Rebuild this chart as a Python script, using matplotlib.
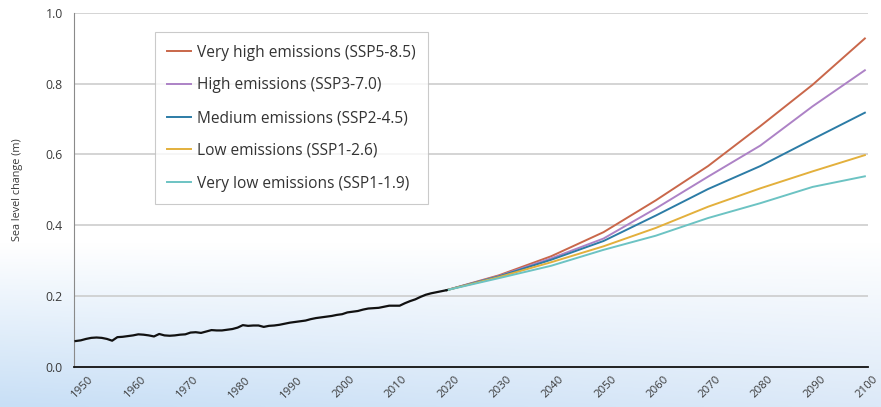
import numpy as np
import matplotlib
matplotlib.use("Agg")
import matplotlib.pyplot as plt
import matplotlib.transforms as mtransforms

plt.rcParams['font.family'] = ['Open Sans', 'DejaVu Sans']

# Observed global mean sea level (m), annual
hist_years = list(range(1949, 2021))
hist_values = [
    0.072, 0.074, 0.078, 0.081, 0.082, 0.081, 0.078, 0.073, 0.083, 0.084,
    0.086, 0.088, 0.091, 0.090, 0.088, 0.085, 0.092, 0.088, 0.087, 0.088,
    0.090, 0.091, 0.096, 0.097, 0.095, 0.099, 0.103, 0.102, 0.102, 0.104,
    0.106, 0.110, 0.117, 0.115, 0.116, 0.116, 0.112, 0.115, 0.116, 0.118,
    0.121, 0.124, 0.126, 0.128, 0.130, 0.134, 0.137, 0.139, 0.141, 0.143,
    0.146, 0.148, 0.153, 0.155, 0.157, 0.161, 0.164, 0.165, 0.166, 0.169,
    0.172, 0.172, 0.172, 0.179, 0.185, 0.190, 0.197, 0.203, 0.207, 0.210,
    0.213, 0.216,
]

# Projected sea level change (m) by scenario
proj_years = [2020, 2030, 2040, 2050, 2060, 2070, 2080, 2090, 2100]
ssp585 = [0.216, 0.258, 0.312, 0.380, 0.470, 0.567, 0.680, 0.797, 0.928]
ssp370 = [0.216, 0.256, 0.306, 0.362, 0.447, 0.537, 0.625, 0.736, 0.838]
ssp245 = [0.216, 0.255, 0.302, 0.355, 0.427, 0.502, 0.567, 0.643, 0.718]
ssp126 = [0.216, 0.253, 0.295, 0.340, 0.392, 0.452, 0.504, 0.552, 0.598]
ssp119 = [0.216, 0.250, 0.285, 0.330, 0.370, 0.420, 0.462, 0.508, 0.538]

scenario_labels = [
    "Very high emissions (SSP5-8.5)",
    "High emissions (SSP3-7.0)",
    "Medium emissions (SSP2-4.5)",
    "Low emissions (SSP1-2.6)",
    "Very low emissions (SSP1-1.9)",
]
scenario_values = [ssp585, ssp370, ssp245, ssp126, ssp119]
scenario_colors = ["#c9674a", "#ad82c6", "#2c7ca6", "#e3b03c", "#6cc3c3"]

x_ticks = list(range(1950, 2101, 10))
y_ticks = [0.0, 0.2, 0.4, 0.6, 0.8, 1.0]

W, H = 881, 407
fig = plt.figure(figsize=(W / 100, H / 100), dpi=100)

# soft blue wash along the bottom of the figure
bg = fig.add_axes([0, 0, 1, 1], zorder=-10)
bg.set_axis_off()
ny, nx = 200, 200
yy = np.linspace(0, 1, ny)[:, None]          # 0 = top, 1 = bottom
xx = np.linspace(0, 1, nx)[None, :]
t = np.clip((yy - 0.60) / 0.40, 0, 1) ** 1.0
left_c = np.array([200, 223, 246]) / 255.0
right_c = np.array([220, 233, 248]) / 255.0
bottom_c = left_c[None, None, :] * (1 - xx[..., None]) + right_c[None, None, :] * xx[..., None]
img = np.ones((ny, nx, 3)) * (1 - t[..., None]) + bottom_c * t[..., None]
bg.imshow(img, aspect='auto', extent=[0, 1, 0, 1], origin='upper')
bg.set_xlim(0, 1)
bg.set_ylim(0, 1)

ax = fig.add_axes([74 / W, 1 - 366.5 / H, (868 - 74) / W, (366.5 - 13) / H])
ax.set_facecolor('none')

for vals, lab, col in zip(scenario_values, scenario_labels, scenario_colors):
    ax.plot(proj_years, vals, color=col, lw=1.4, label=lab, zorder=3)
ax.plot(hist_years, hist_values, color='#111111', lw=1.6, zorder=4)

ax.set_xlim(1948.7, 2100.6)
ax.set_ylim(0, 1.0)

for yv in y_ticks[1:]:
    ax.axhline(yv, color='#c9c9c9', lw=1.1, zorder=1)

for s in ['top', 'right']:
    ax.spines[s].set_visible(False)
ax.spines['left'].set_color('#8a8a8a')
ax.spines['left'].set_linewidth(0.8)
ax.spines['bottom'].set_color('#111111')
ax.spines['bottom'].set_linewidth(1.3)

ax.set_xticks(x_ticks)
ax.set_xticklabels([str(v) for v in x_ticks], rotation=45, ha='center',
                   fontsize=8.2, color='#3a3a3a')
ax.set_yticks(y_ticks)
ax.set_yticklabels([f"{v:.1f}" for v in y_ticks], fontsize=8.8, color='#3a3a3a')
ax.tick_params(axis='x', length=0, pad=5.5)
ax.tick_params(axis='y', length=0, pad=8)
offset = mtransforms.ScaledTranslation(2 / 100, 0, fig.dpi_scale_trans)
for lbl in ax.get_xticklabels():
    lbl.set_transform(lbl.get_transform() + offset)

ax.set_ylabel("Sea level change (m)", fontsize=7.8, color='#3a3a3a')
ax.yaxis.set_label_coords(-0.064, 0.5)

leg = ax.legend(loc='upper left', bbox_to_anchor=(0.102, 0.946), borderaxespad=0,
                fontsize=11.2, frameon=True, fancybox=False, handlelength=1.5,
                handletextpad=0.4, labelspacing=1.08, borderpad=0.8)
leg.get_frame().set_edgecolor('#bdbdbd')
leg.get_frame().set_linewidth(0.8)
for txt in leg.get_texts():
    txt.set_color('#333333')

fig.savefig("out.png", dpi=100)
